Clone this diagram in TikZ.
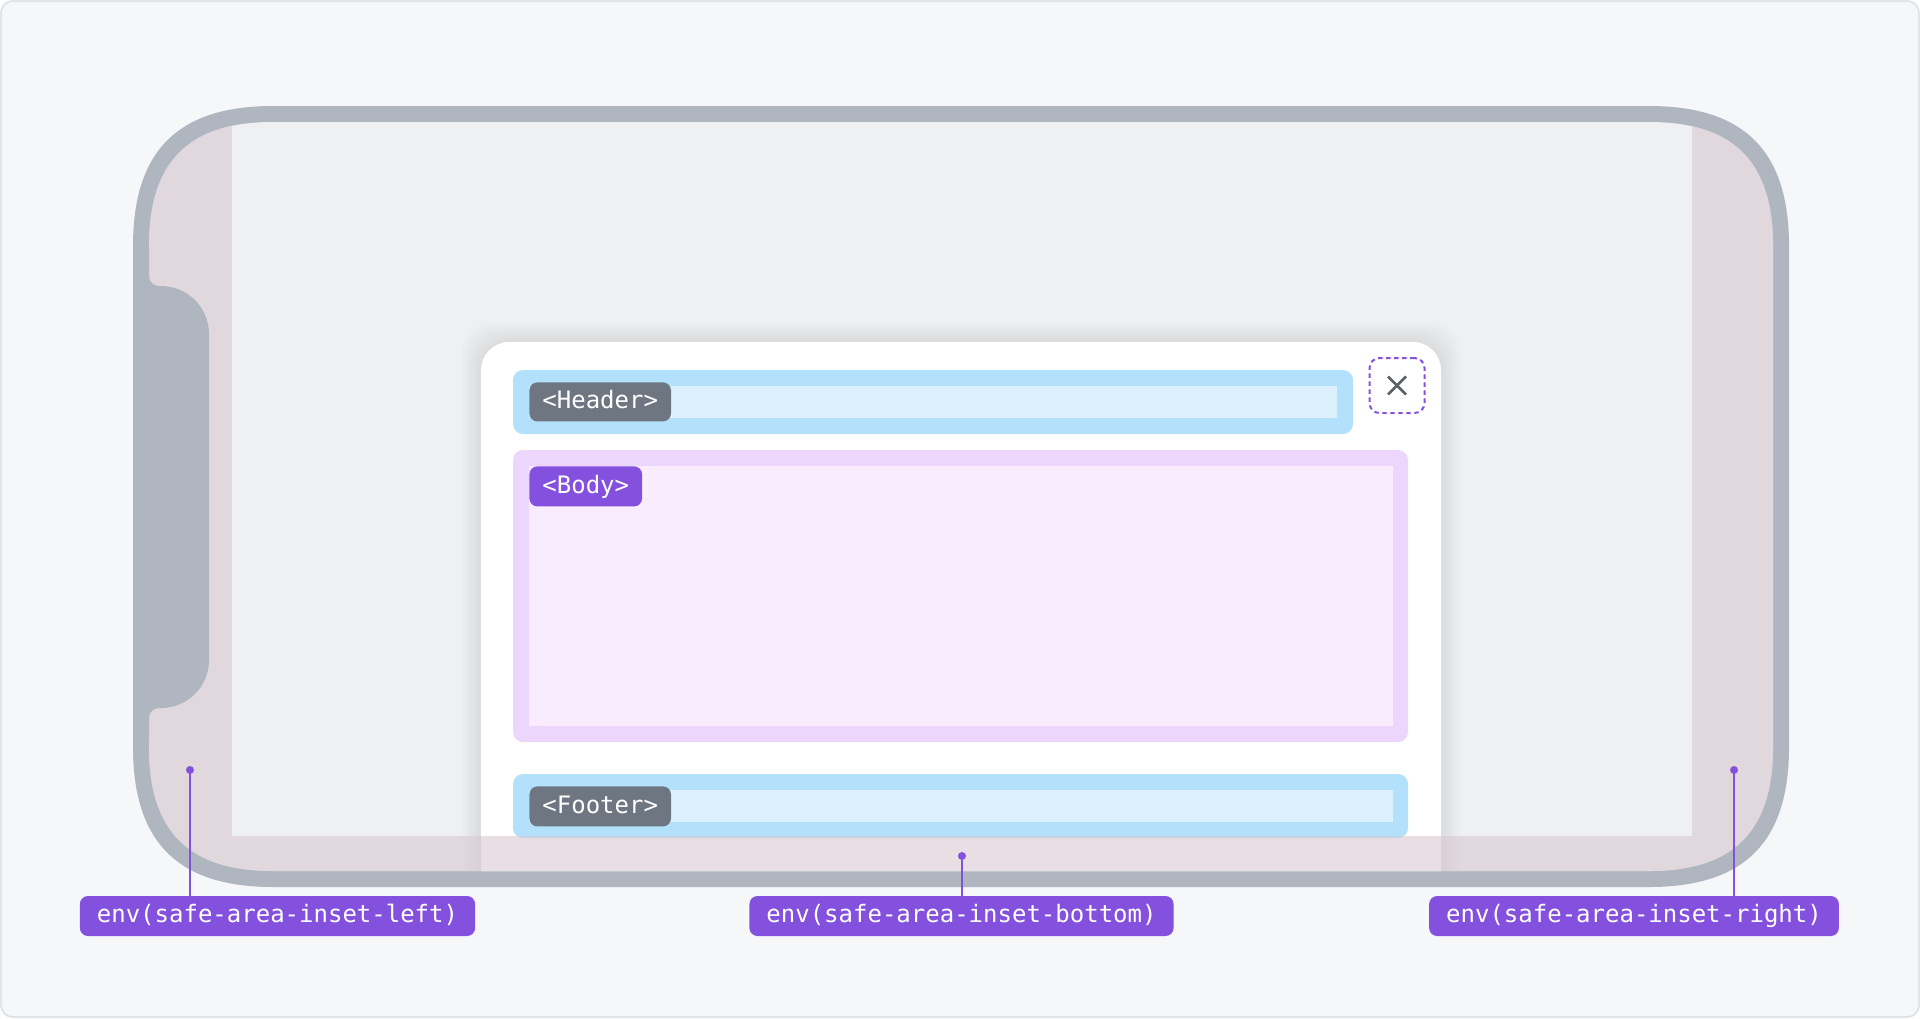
\documentclass[tikz,border=0pt]{standalone}
\usepackage{fontspec}
\setmonofont{DejaVu Sans Mono}
\usepackage{tikz}
\usetikzlibrary{positioning,calc}
\usepackage{xcolor}
\definecolor{bgfill}{HTML}{F6F7F9}
\definecolor{frameline}{HTML}{E1E4E8}
\definecolor{phonegray}{HTML}{AFB6BF}
\definecolor{screengray}{HTML}{EFF0F2}
\definecolor{insetpink}{RGB}{217,200,210}
\definecolor{slotblue}{HTML}{B3E1FC}
\definecolor{slotbluein}{HTML}{DCF1FD}
\definecolor{slotlilac}{HTML}{ECD6FC}
\definecolor{slotlilacin}{HTML}{F9ECFE}
\definecolor{pillgray}{HTML}{6E7681}
\definecolor{accent}{HTML}{8450DE}
\definecolor{xgray}{HTML}{5B616B}
% smooth (squircle-like) rectangle: x1, y1, x2, y2, corner
\newcommand{\squirc}[5]{({#1},{#2+#5}) .. controls ({#1},{#2+0.32*#5}) and ({#1+0.32*#5},{#2}) .. ({#1+#5},{#2})
  -- ({#3-#5},{#2}) .. controls ({#3-0.32*#5},{#2}) and ({#3},{#2+0.32*#5}) .. ({#3},{#2+#5})
  -- ({#3},{#4-#5}) .. controls ({#3},{#4-0.32*#5}) and ({#3-0.32*#5},{#4}) .. ({#3-#5},{#4})
  -- ({#1+#5},{#4}) .. controls ({#1+0.32*#5},{#4}) and ({#1},{#4-0.32*#5}) .. ({#1},{#4-#5}) -- cycle}

\begin{document}
\begin{tikzpicture}[
  x=0.5pt, y=-0.5pt,
  tag/.style={rounded corners=4pt, text=white, font=\fontsize{12}{14}\selectfont\ttfamily,
    minimum height=19.5pt, inner xsep=6.5pt, inner ysep=0pt, text height=8.8pt, text depth=2.2pt},
  greytag/.style={tag, fill=pillgray, anchor=north west},
  envtag/.style={tag, fill=accent, inner xsep=8.5pt, minimum height=20pt},
  dot/.style={circle, fill=accent, inner sep=0pt, minimum size=4pt},
  leader/.style={accent, line width=1.1pt},
  closebox/.style={draw=accent, dashed, dash pattern=on 2.2pt off 1.8pt, line width=1pt,
    rounded corners=5pt, minimum size=27.5pt, inner sep=0pt},
  inset/.style={insetpink, fill opacity=0.6},
]
\useasboundingbox (0,0) rectangle (1920,1018);

% ─── Frame and phone ───
\filldraw[fill=bgfill, draw=frameline, line width=1pt, rounded corners=6pt] (1,1) rectangle (1919,1017);
\fill[phonegray] \squirc{133}{106}{1789}{887}{140};
\fill[screengray] \squirc{149}{122}{1773}{871}{124};

\begin{scope}
\clip \squirc{149}{122}{1773}{871}{124};
% Dialog card with soft shadow
\foreach \s in {2,4,...,20} {
  \fill[black, opacity=0.006, rounded corners=16pt] (481-\s,342-\s) rectangle (1441+\s,900);
}
\fill[white] (481,880) [rounded corners=14pt] -- (481,342) -- (1441,342) [sharp corners] -- (1441,880) -- cycle;

% Header
\fill[slotblue, rounded corners=5pt] (513,370) rectangle (1353,434);
\fill[slotbluein] (529,386) rectangle (1337,418);
\node[greytag] (header) at (529,382) {<Header>};
\node[closebox] (close) at (1397,385.5) {};
\draw[xgray, line width=1.3pt] ($(close.center)+(-9,-9)$) -- ($(close.center)+(9,9)$);
\draw[xgray, line width=1.3pt] ($(close.center)+(-9,9)$) -- ($(close.center)+(9,-9)$);

% Body
\fill[slotlilac, rounded corners=5pt] (513,450) rectangle (1408,742);
\fill[slotlilacin] (529,466) rectangle (1393,726);
\node[greytag, fill=accent, minimum height=20pt] (body) at (529,466) {<Body>};

% Footer
\fill[slotblue, rounded corners=5pt] (513,774) rectangle (1408,838);
\fill[slotbluein] (529,790) rectangle (1393,822);
\node[greytag, minimum height=20pt] (footer) at (529,786) {<Footer>};

% Safe area insets
\fill[inset] (130,100) rectangle (232,890);
\fill[inset] (1692,100) rectangle (1790,890);
\fill[inset] (232,836) rectangle (1692,890);
\end{scope}

% Notch
\fill[phonegray] (140,250) -- (149,250) [rounded corners=5pt] -- (149,286) [rounded corners=24pt]
  -- (209,286) -- (209,708) [rounded corners=5pt] -- (149,708) [sharp corners] -- (149,740) -- (140,740) -- cycle;

% ─── Labels ───
\foreach \n/\x/\y/\lx/\t in {left/190/770/277.5/env(safe-area-inset-left),
  bottom/962/856/961.5/env(safe-area-inset-bottom), right/1734/770/1634/env(safe-area-inset-right)} {
  \node[envtag] (lab\n) at (\lx,916) {\t};
  \node[dot] (dot\n) at (\x,\y) {};
  \draw[leader] (dot\n) -- (dot\n |- lab\n.north);
}

\end{tikzpicture}
\end{document}
